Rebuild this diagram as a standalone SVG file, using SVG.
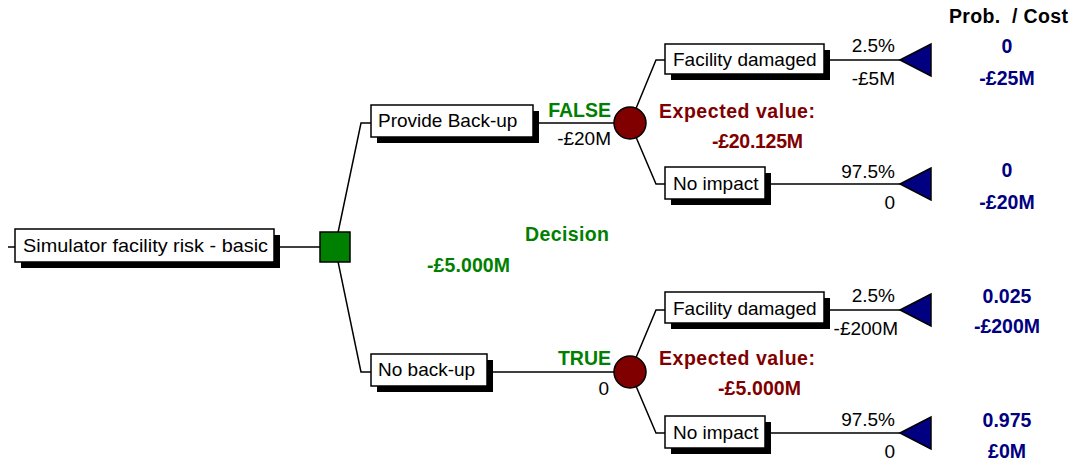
<svg xmlns="http://www.w3.org/2000/svg" width="1072" height="462" viewBox="0 0 1072 462">
<style>
.box{fill:#fff;stroke:#000;stroke-width:1.5}
.shadow{fill:#000}
.lbl{font-family:"Liberation Sans",Arial,sans-serif;font-size:19px;fill:#000}
.num{font-family:"Liberation Sans",Arial,sans-serif;font-size:19px;fill:#000;text-anchor:end}
.b{font-family:"Liberation Sans",Arial,sans-serif;font-size:19.5px;font-weight:bold}
.g{fill:#008000}
.r{fill:#800000}
.n{fill:#000080;text-anchor:middle}
.ln{fill:none;stroke:#000;stroke-width:1.5}
.tri{fill:#000080;stroke:#000;stroke-width:1.5}
</style>
<rect width="1072" height="462" fill="#fff"/>
<g id="connectors">
<path class="ln" d="M8,247H15M274,247H320"/>
<path class="ln" d="M335,247L361,123H371M533,123H630"/>
<path class="ln" d="M335,247L361,372H371M487,372H630"/>
<path class="ln" d="M630,123L656,60H665M824,60H900"/>
<path class="ln" d="M630,123L656,184H665M765,184H900"/>
<path class="ln" d="M630,372L656,310H665M824,310H900"/>
<path class="ln" d="M630,372L656,433H665M765,433H900"/>
</g>
<g id="root">
<rect class="shadow" x="21" y="235" width="259" height="33"/>
<rect class="box" x="15" y="229" width="259" height="33"/>
<text class="lbl" x="23" y="252" textLength="245" lengthAdjust="spacingAndGlyphs">Simulator facility risk - basic</text>
</g>
<g id="decision">
<rect x="320" y="232" width="30" height="30" fill="#008000" stroke="#000" stroke-width="1.5"/>
<text class="b g" x="525" y="241" textLength="84" lengthAdjust="spacing">Decision</text>
<text class="b g" x="427" y="272" textLength="83" lengthAdjust="spacing">-£5.000M</text>
</g>
<g id="provide">
<rect class="shadow" x="377" y="111" width="162" height="32"/>
<rect class="box" x="371" y="105" width="162" height="32"/>
<text class="lbl" x="378" y="127">Provide Back-up</text>
<text class="b g" x="611" y="117" text-anchor="end">FALSE</text>
<text class="num" x="611" y="145">-£20M</text>
</g>
<g id="noback">
<rect class="shadow" x="377" y="360" width="116" height="32"/>
<rect class="box" x="371" y="354" width="116" height="32"/>
<text class="lbl" x="378" y="376">No back-up</text>
<text class="b g" x="611" y="365" text-anchor="end">TRUE</text>
<text class="num" x="609" y="395">0</text>
</g>
<g id="chance1">
<circle cx="630" cy="123" r="16" fill="#800000" stroke="#000" stroke-width="1.5"/>
<text class="b r" x="659" y="118" textLength="156" lengthAdjust="spacing">Expected value:</text>
<text class="b r" x="712" y="148" textLength="91" lengthAdjust="spacing">-£20.125M</text>
</g>
<g id="chance2">
<circle cx="630" cy="372" r="16" fill="#800000" stroke="#000" stroke-width="1.5"/>
<text class="b r" x="659" y="365" textLength="156" lengthAdjust="spacing">Expected value:</text>
<text class="b r" x="718" y="395" textLength="83" lengthAdjust="spacing">-£5.000M</text>
</g>
<g id="fd1">
<rect class="shadow" x="671" y="50" width="159" height="30"/>
<rect class="box" x="665" y="44" width="159" height="30"/>
<text class="lbl" x="673" y="66">Facility damaged</text>
<text class="num" x="895" y="52">2.5%</text>
<text class="num" x="895" y="85">-£5M</text>
<polygon class="tri" points="900,60 931,44 931,76"/>
</g>
<g id="ni1">
<rect class="shadow" x="671" y="173" width="100" height="32"/>
<rect class="box" x="665" y="167" width="100" height="32"/>
<text class="lbl" x="673" y="190">No impact</text>
<text class="num" x="895" y="178">97.5%</text>
<text class="num" x="895" y="209">0</text>
<polygon class="tri" points="900,184 931,168 931,200"/>
</g>
<g id="fd2">
<rect class="shadow" x="671" y="298" width="159" height="31"/>
<rect class="box" x="665" y="292" width="159" height="31"/>
<text class="lbl" x="673" y="315">Facility damaged</text>
<text class="num" x="895" y="302">2.5%</text>
<text class="num" x="898" y="335">-£200M</text>
<polygon class="tri" points="900,310 931,294 931,326"/>
</g>
<g id="ni2">
<rect class="shadow" x="671" y="422" width="100" height="32"/>
<rect class="box" x="665" y="416" width="100" height="32"/>
<text class="lbl" x="673" y="439">No impact</text>
<text class="num" x="895" y="426">97.5%</text>
<text class="num" x="895" y="458">0</text>
<polygon class="tri" points="900,433 931,417 931,449"/>
</g>
<g id="results">
<text class="b" x="949" y="23" textLength="119" lengthAdjust="spacing" xml:space="preserve">Prob.  / Cost</text>
<text class="b n" x="1007" y="53">0</text>
<text class="b n" x="1007" y="85">-£25M</text>
<text class="b n" x="1007" y="177">0</text>
<text class="b n" x="1007" y="209">-£20M</text>
<text class="b n" x="1007" y="303">0.025</text>
<text class="b n" x="1007" y="333">-£200M</text>
<text class="b n" x="1007" y="427">0.975</text>
<text class="b n" x="1007" y="458">£0M</text>
</g>
</svg>
